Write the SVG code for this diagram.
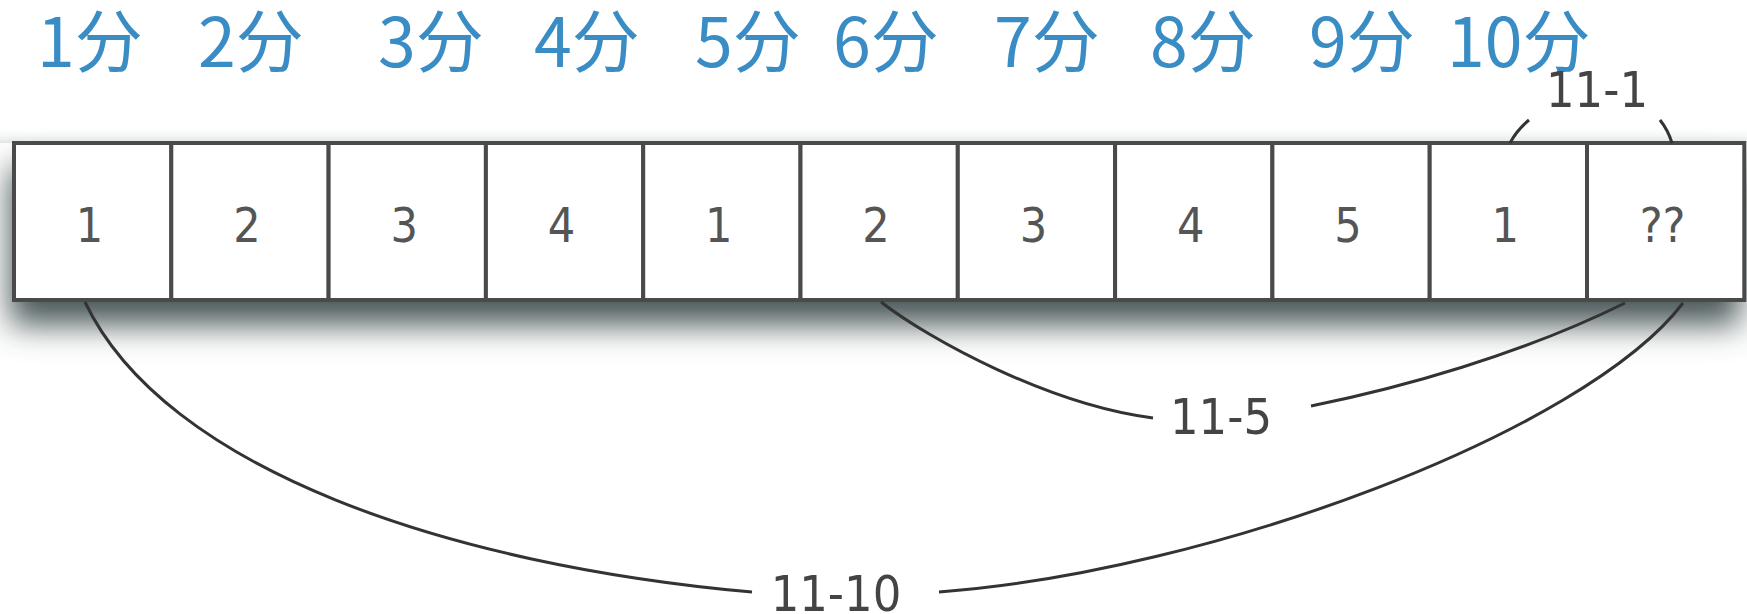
<svg xmlns="http://www.w3.org/2000/svg" width="1747" height="614" viewBox="0 0 1747 614">
  <defs>
    <filter id="shadow" x="-5%" y="-50%" width="110%" height="200%">
      <feGaussianBlur in="SourceAlpha" stdDeviation="16"/>
      <feOffset dx="-4" dy="25" result="b"/>
      <feFlood flood-color="#4a5758" flood-opacity="1"/>
      <feComposite in2="b" operator="in"/>
    </filter>
    <linearGradient id="topband" x1="0" y1="0" x2="0" y2="1">
      <stop offset="0" stop-color="#ffffff" stop-opacity="0"/>
      <stop offset="1" stop-color="#dfe3e3" stop-opacity="0.8"/>
    </linearGradient>
  </defs>
  <style>
    .cell { fill: #ffffff; stroke: #4a4a4a; stroke-width: 4; }
    .num { font-family: "DejaVu Sans Condensed", "DejaVu Sans", sans-serif; font-size: 48px; fill: #555555; text-anchor: middle; }
    .lbl { font-family: "DejaVu Sans Condensed", "DejaVu Sans", sans-serif; font-size: 50px; fill: #444444; text-anchor: middle; }
    .min { font-family: "Noto Sans CJK SC", "Noto Sans", sans-serif; font-size: 68px; fill: #3a8cc5; }
    .conn { fill: none; stroke: #333333; stroke-width: 3; stroke-linecap: butt; }
  </style>
  <rect x="0" y="0" width="1747" height="614" fill="#ffffff"/>

  <g id="minutes">
    <text class="min" x="37" y="67">1分</text>
    <text class="min" x="198" y="67">2分</text>
    <text class="min" x="378" y="67">3分</text>
    <text class="min" x="534" y="67">4分</text>
    <text class="min" x="695" y="67">5分</text>
    <text class="min" x="833" y="67">6分</text>
    <text class="min" x="994" y="67">7分</text>
    <text class="min" x="1150" y="67">8分</text>
    <text class="min" x="1309" y="67">9分</text>
    <text class="min" x="1447" y="67">10分</text>
  </g>

  <rect x="0" y="126" width="1747" height="17" fill="url(#topband)"/>
  <rect x="14" y="143" width="1730" height="157" filter="url(#shadow)"/>

  <g id="cell1"><rect class="cell" x="14" y="143" width="157.3" height="157"/><text class="num" x="89.6" y="242">1</text></g>
  <g id="cell2"><rect class="cell" x="171.3" y="143" width="157.3" height="157"/><text class="num" x="246.9" y="242">2</text></g>
  <g id="cell3"><rect class="cell" x="328.6" y="143" width="157.3" height="157"/><text class="num" x="404.2" y="242">3</text></g>
  <g id="cell4"><rect class="cell" x="485.9" y="143" width="157.3" height="157"/><text class="num" x="561.5" y="242">4</text></g>
  <g id="cell5"><rect class="cell" x="643.2" y="143" width="157.3" height="157"/><text class="num" x="718.8" y="242">1</text></g>
  <g id="cell6"><rect class="cell" x="800.5" y="143" width="157.3" height="157"/><text class="num" x="876.1" y="242">2</text></g>
  <g id="cell7"><rect class="cell" x="957.8" y="143" width="157.3" height="157"/><text class="num" x="1033.4" y="242">3</text></g>
  <g id="cell8"><rect class="cell" x="1115.1" y="143" width="157.3" height="157"/><text class="num" x="1190.7" y="242">4</text></g>
  <g id="cell9"><rect class="cell" x="1272.4" y="143" width="157.3" height="157"/><text class="num" x="1348" y="242">5</text></g>
  <g id="cell10"><rect class="cell" x="1429.7" y="143" width="157.3" height="157"/><text class="num" x="1505.3" y="242">1</text></g>
  <g id="cell11"><rect class="cell" x="1587" y="143" width="157.3" height="157"/><text class="num" x="1662.6" y="242">??</text></g>

  <g id="connectors">
    <path class="conn" d="M1510,143 Q1517,130 1529,120"/>
    <path class="conn" d="M1672,143 Q1668,130 1660,120"/>
    <path class="conn" d="M881,302 C930,340 1050,405 1153,418"/>
    <path class="conn" d="M1311,406 C1400,388 1520,355 1625,303"/>
    <path class="conn" d="M85,302 C165,470 450,565 752,592"/>
    <path class="conn" d="M939,592 C1210,572 1585,432 1683,303"/>
  </g>

  <g id="labels">
    <text class="lbl" x="1597" y="107">11-1</text>
    <text class="lbl" x="1221" y="434">11-5</text>
    <text class="lbl" x="836" y="611">11-10</text>
  </g>
</svg>
